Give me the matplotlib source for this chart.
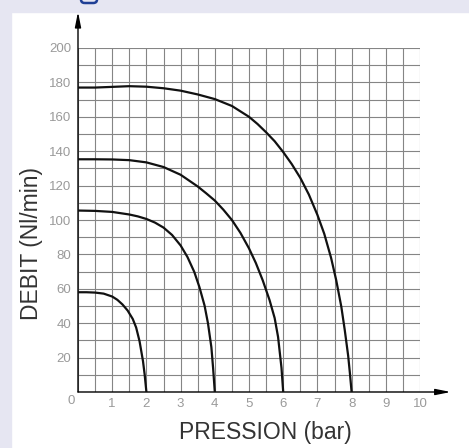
import matplotlib
matplotlib.use('Agg')
import matplotlib.pyplot as plt
from matplotlib.patches import Rectangle, FancyBboxPatch
from matplotlib.ticker import MultipleLocator

# Debit curves (pression in bar, debit in Nl/min)
p_2bar = [0, 0.25, 0.5, 0.75, 1.0, 1.15, 1.3, 1.45, 1.6, 1.7, 1.8, 1.9, 1.95, 2.0]
q_2bar = [58, 58, 57.8, 57.2, 55.5, 53.6, 50.9, 47.4, 42.5, 37.5, 29.5, 18, 10, 0]

p_4bar = [0, 0.5, 1.0, 1.5, 1.75, 2.0, 2.25, 2.5, 2.75, 3.0, 3.2, 3.4, 3.55, 3.7, 3.8, 3.9, 3.95, 4.0]
q_4bar = [105.5, 105.3, 104.7, 103.2, 102.1, 100.6, 98.5, 95.6, 91.3, 85.2, 78.5, 69.8, 61, 50.3, 40, 26, 14, 0]

p_6bar = [0, 0.5, 1.0, 1.5, 2.0, 2.5, 3.0, 3.5, 3.75, 4.0, 4.25, 4.5, 4.75, 5.0, 5.2, 5.4, 5.6, 5.75, 5.85, 5.95, 6.0]
q_6bar = [135.3, 135.3, 135.2, 134.8, 133.5, 130.8, 126.3, 119.5, 115.5, 111.3, 106, 100, 92.5, 83.5, 75, 65, 53.5, 43, 32, 14, 0]

p_8bar = [0, 0.5, 1.0, 1.5, 2.0, 2.5, 3.0, 3.5, 4.0, 4.5, 5.0, 5.25, 5.5, 5.75, 6.0, 6.25, 6.5,
          6.75, 7.0, 7.2, 7.4, 7.55, 7.7, 7.8, 7.9, 7.95, 8.0]
q_8bar = [177, 177, 177.4, 177.8, 177.5, 176.6, 175.2, 173, 170.3, 166.3, 160, 155.8, 151, 145.8, 139.5, 132.5, 124.5,
          114.8, 103, 92, 78, 65, 49.5, 36, 21, 11, 0]

x_ticks = [1, 2, 3, 4, 5, 6, 7, 8, 9, 10]
y_ticks = [20, 40, 60, 80, 100, 120, 140, 160, 180, 200]

plt.rcParams['font.family'] = ['Liberation Sans', 'DejaVu Sans']

W, H = 469, 448
fig = plt.figure(figsize=(W / 100, H / 100), dpi=100)
fig.patch.set_facecolor('white')

# lavender frame on the left and top
fig.add_artist(Rectangle((0, 0), 11 / W, 1, transform=fig.transFigure, color='#e6e6f2', zorder=0))
fig.add_artist(Rectangle((0, 1 - 12 / H), 1, 12 / H, transform=fig.transFigure, color='#e6e6f2', zorder=0))
# bit of a blue glyph cut off at the top
fig.add_artist(FancyBboxPatch((81 / W, 1 - 3 / H), 16 / W, 10 / H, boxstyle='round,pad=0,rounding_size=0.008',
                              transform=fig.transFigure, fc='none', ec='#1f3f95', lw=1.8, zorder=1))

ax = fig.add_axes([78 / W, (H - 392) / H, (420 - 78) / W, (392 - 48) / H])
ax.set_xlim(0, 10)
ax.set_ylim(0, 200)
for s in ax.spines.values():
    s.set_visible(False)

ax.xaxis.set_minor_locator(MultipleLocator(0.5))
ax.yaxis.set_minor_locator(MultipleLocator(10))
ax.set_xticks(x_ticks)
ax.set_yticks(y_ticks)
ax.tick_params(which='both', length=0, labelsize=9.5, labelcolor='#9a9a9a')
ax.tick_params(axis='x', pad=4)
ax.tick_params(axis='y', pad=5)
ax.grid(which='both', color='#858585', lw=0.8)
ax.set_axisbelow(True)
ax.text(-0.19, -5.5, '0', ha='center', va='center', fontsize=9.5, color='#9a9a9a', clip_on=False)

# axis arrows
ax.annotate('', xy=(0, 221), xytext=(0, 0), annotation_clip=False,
            arrowprops=dict(arrowstyle='-|>,head_length=0.9,head_width=0.18', color='black', lw=1, shrinkA=0, shrinkB=0))
ax.annotate('', xy=(10.9, 0), xytext=(0, 0), annotation_clip=False,
            arrowprops=dict(arrowstyle='-|>,head_length=0.9,head_width=0.18', color='black', lw=1, shrinkA=0, shrinkB=0))

for p, q in [(p_2bar, q_2bar), (p_4bar, q_4bar), (p_6bar, q_6bar), (p_8bar, q_8bar)]:
    ax.plot(p, q, color='#111111', lw=1.6, solid_capstyle='round', solid_joinstyle='round', zorder=3)

fig.text(265 / W, 1 - 432 / H, 'PRESSION (bar)', ha='center', va='center', fontsize=16.5, color='#333333')
fig.text(31.5 / W, 1 - 243 / H, 'DEBIT (Nl/min)', ha='center', va='center', rotation=90, fontsize=16.5, color='#333333')

fig.savefig('out.png', dpi=100)
